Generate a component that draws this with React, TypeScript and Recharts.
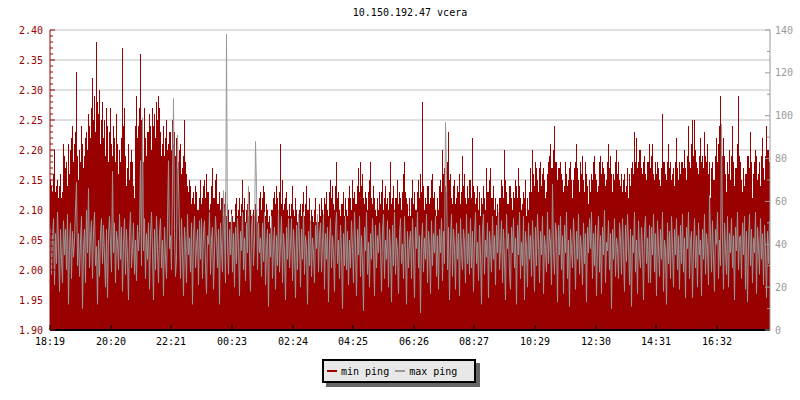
import React from 'react';
import { ComposedChart, Bar, Line, XAxis, YAxis, CartesianGrid, Legend } from 'recharts';

// min ping (left axis), one value per 2 minutes, 18:19 -> 18:19 next day (30 values per hour per line)
const MIN_PING: number[] = [
  2.15,2.14,2.13,2.16,2.20,2.13,2.14,2.15,2.12,2.14,2.16,2.12,2.13,2.21,2.19,2.17,2.18,2.14,2.21,2.16,2.20,2.22,2.24,2.18,2.21,2.23,2.33,2.19,2.15,2.20,
  2.18,2.24,2.21,2.17,2.19,2.22,2.23,2.20,2.26,2.24,2.22,2.27,2.32,2.25,2.29,2.23,2.38,2.28,2.26,2.30,2.21,2.25,2.28,2.22,2.25,2.19,2.27,2.24,2.18,2.23,
  2.27,2.21,2.19,2.24,2.22,2.18,2.26,2.21,2.16,2.20,2.18,2.22,2.37,2.24,2.27,2.19,2.14,2.17,2.21,2.15,2.18,2.20,2.18,2.14,2.12,2.24,2.29,2.22,2.24,2.27,
  2.36,2.25,2.21,2.18,2.27,2.22,2.19,2.23,2.23,2.26,2.24,2.20,2.27,2.24,2.26,2.22,2.28,2.25,2.29,2.27,2.23,2.19,2.21,2.24,2.19,2.22,2.25,2.20,2.21,2.23,
  2.23,2.20,2.25,2.21,2.23,2.19,2.22,2.17,2.18,2.20,2.21,2.16,2.17,2.19,2.25,2.18,2.16,2.14,2.13,2.15,2.14,2.11,2.12,2.13,2.11,2.14,2.13,2.10,2.10,2.12,
  2.15,2.11,2.12,2.14,2.15,2.12,2.16,2.13,2.13,2.10,2.11,2.14,2.17,2.12,2.12,2.15,2.16,2.11,2.11,2.13,2.10,2.12,2.12,2.09,2.11,2.13,2.09,2.11,2.10,2.08,
  2.08,2.10,2.09,2.08,2.08,2.11,2.12,2.09,2.10,2.12,2.09,2.11,2.15,2.10,2.12,2.08,2.10,2.11,2.09,2.13,2.10,2.09,2.08,2.10,2.09,2.11,2.10,2.08,2.09,2.12,
  2.13,2.10,2.12,2.14,2.13,2.09,2.11,2.10,2.08,2.09,2.07,2.10,2.10,2.12,2.13,2.11,2.14,2.12,2.10,2.13,2.21,2.11,2.15,2.10,2.11,2.12,2.13,2.10,2.09,2.11,
  2.09,2.11,2.14,2.10,2.09,2.12,2.10,2.08,2.08,2.10,2.11,2.09,2.11,2.13,2.09,2.11,2.14,2.10,2.10,2.12,2.08,2.10,2.09,2.08,2.10,2.12,2.08,2.09,2.08,2.11,
  2.09,2.12,2.10,2.09,2.12,2.11,2.13,2.10,2.09,2.13,2.15,2.12,2.14,2.11,2.10,2.14,2.18,2.12,2.13,2.10,2.09,2.11,2.11,2.13,2.09,2.12,2.10,2.09,2.12,2.14,
  2.12,2.10,2.15,2.12,2.13,2.11,2.11,2.14,2.17,2.13,2.18,2.14,2.16,2.12,2.11,2.13,2.12,2.10,2.13,2.15,2.18,2.12,2.11,2.14,2.12,2.10,2.09,2.12,2.10,2.13,
  2.11,2.13,2.15,2.10,2.12,2.14,2.11,2.12,2.10,2.13,2.18,2.11,2.12,2.14,2.10,2.12,2.12,2.15,2.11,2.13,2.12,2.10,2.13,2.16,2.18,2.13,2.12,2.11,2.09,2.12,
  2.09,2.12,2.15,2.11,2.13,2.10,2.10,2.13,2.15,2.12,2.16,2.13,2.28,2.14,2.10,2.12,2.11,2.14,2.14,2.11,2.12,2.15,2.16,2.12,2.13,2.10,2.09,2.12,2.10,2.14,
  2.15,2.13,2.20,2.16,2.17,2.14,2.13,2.18,2.23,2.15,2.16,2.12,2.11,2.14,2.15,2.11,2.12,2.14,2.13,2.16,2.11,2.13,2.19,2.14,2.16,2.12,2.11,2.14,2.12,2.15,
  2.15,2.12,2.22,2.14,2.13,2.11,2.12,2.14,2.10,2.13,2.09,2.12,2.11,2.14,2.12,2.10,2.17,2.13,2.13,2.15,2.17,2.12,2.12,2.14,2.10,2.12,2.09,2.11,2.08,2.12,
  2.12,2.15,2.14,2.12,2.20,2.15,2.13,2.11,2.11,2.14,2.14,2.12,2.10,2.13,2.12,2.15,2.14,2.12,2.17,2.14,2.12,2.10,2.11,2.13,2.12,2.15,2.09,2.12,2.10,2.13,
  2.17,2.13,2.20,2.16,2.14,2.18,2.17,2.15,2.13,2.17,2.18,2.14,2.16,2.17,2.15,2.12,2.13,2.16,2.18,2.19,2.21,2.17,2.17,2.20,2.24,2.18,2.18,2.15,2.17,2.17,
  2.18,2.16,2.15,2.13,2.14,2.18,2.16,2.14,2.15,2.17,2.18,2.15,2.12,2.15,2.17,2.18,2.21,2.17,2.15,2.13,2.18,2.16,2.19,2.15,2.13,2.18,2.16,2.14,2.11,2.15,
  2.13,2.16,2.15,2.18,2.19,2.16,2.15,2.13,2.14,2.18,2.19,2.16,2.18,2.17,2.16,2.14,2.15,2.18,2.21,2.17,2.19,2.16,2.13,2.16,2.15,2.18,2.20,2.16,2.18,2.15,
  2.14,2.16,2.13,2.15,2.16,2.13,2.14,2.17,2.12,2.16,2.14,2.17,2.18,2.16,2.23,2.18,2.22,2.17,2.18,2.20,2.20,2.17,2.16,2.18,2.19,2.16,2.15,2.18,2.18,2.21,
  2.17,2.19,2.21,2.16,2.15,2.18,2.16,2.18,2.17,2.15,2.14,2.17,2.26,2.18,2.18,2.16,2.15,2.18,2.21,2.17,2.18,2.15,2.16,2.17,2.14,2.18,2.22,2.17,2.15,2.18,
  2.16,2.18,2.18,2.17,2.20,2.17,2.15,2.19,2.24,2.18,2.17,2.21,2.25,2.19,2.25,2.20,2.18,2.17,2.16,2.19,2.22,2.18,2.19,2.17,2.23,2.19,2.18,2.21,2.16,2.18,
  2.12,2.17,2.18,2.15,2.15,2.19,2.22,2.18,2.21,2.24,2.29,2.20,2.19,2.22,2.19,2.16,2.13,2.18,2.16,2.20,2.15,2.19,2.24,2.18,2.14,2.17,2.17,2.21,2.29,2.19,
  2.18,2.15,2.13,2.17,2.14,2.16,2.16,2.19,2.19,2.17,2.23,2.18,2.12,2.16,2.18,2.20,2.19,2.15,2.16,2.18,2.14,2.19,2.22,2.17,2.15,2.19,2.24,2.20,2.20,2.18,
];

// max ping (right axis)
const MAX_PING: number[] = [
  48,26,44,52,21,45,31,55,40,18,47,33,22,51,35,47,28,54,12,39,50,24,46,34,42,57,69,30,45,25,
  41,53,10,38,47,22,56,36,66,29,43,51,24,46,55,30,39,12,42,25,45,52,31,49,34,20,47,15,44,53,
  40,27,74,36,50,22,46,41,28,54,33,48,18,40,52,26,47,34,14,45,55,29,38,50,26,42,23,49,37,46,
  79,30,99,37,52,24,45,33,50,19,44,55,36,14,47,28,53,38,22,45,52,29,42,16,48,34,24,51,79,38,
  44,28,71,108,46,25,33,91,69,45,24,52,37,16,48,39,22,54,35,43,27,50,12,44,53,29,39,47,21,51,
  33,52,24,46,51,30,17,44,40,55,26,42,48,19,36,53,43,29,47,12,50,38,27,65,45,22,138,41,26,47,
  35,54,27,45,20,48,31,52,39,16,46,37,55,28,43,23,50,36,67,34,18,47,54,30,42,88,67,28,50,36,
  43,25,50,32,55,21,38,47,11,45,34,53,24,40,48,19,44,30,56,27,41,53,22,45,37,14,48,33,52,29,
  40,52,23,47,36,15,49,28,54,41,20,47,33,55,26,44,38,12,46,30,51,25,43,36,22,49,38,54,27,44,
  50,27,41,54,19,45,33,48,13,40,52,29,44,36,18,47,55,31,42,24,49,37,10,45,30,53,28,46,21,42,
  29,51,38,22,55,40,16,47,35,53,25,44,31,9,48,37,55,26,41,20,45,33,52,38,16,49,29,44,36,50,
  39,18,46,54,24,42,33,51,20,47,38,13,49,30,55,26,43,37,17,45,52,31,40,24,53,36,12,46,29,41,
  46,24,52,35,15,48,38,55,29,44,8,41,50,27,43,33,54,22,46,38,17,51,30,45,36,53,25,44,19,47,
  36,52,23,46,31,97,72,28,48,14,41,54,25,47,38,19,50,33,45,16,52,36,28,47,40,22,54,31,45,26,
  52,29,46,18,43,55,31,41,23,49,36,12,47,54,26,42,34,50,15,46,38,27,53,33,44,21,49,36,55,28,
  39,51,22,47,33,14,54,38,45,27,19,48,36,52,29,43,12,49,35,55,24,41,30,53,14,46,38,20,50,33,
  44,25,51,37,18,48,30,54,41,22,46,35,53,17,44,38,27,55,31,47,40,21,68,37,26,50,45,13,49,35,
  53,28,44,17,49,36,55,24,42,11,47,38,29,52,40,19,46,33,54,26,44,37,21,50,31,45,13,48,36,52,
  38,55,24,45,30,49,16,42,53,27,44,17,48,35,56,22,41,37,51,28,45,10,47,33,52,25,43,38,24,50,
  43,26,52,37,18,49,32,54,40,21,47,11,44,36,55,27,42,17,51,35,29,48,38,14,46,53,31,43,22,49,
  22,48,35,54,27,45,16,51,39,25,47,33,55,18,42,37,12,50,31,46,24,53,38,20,47,35,52,28,44,19,
  49,31,54,27,43,15,48,38,55,24,41,46,15,37,52,29,44,20,50,35,42,16,47,33,54,26,45,38,21,63,
  45,27,51,33,18,47,40,55,24,42,30,96,43,19,50,38,26,53,20,45,36,52,29,44,14,48,37,55,28,43,
  44,24,50,35,53,19,46,13,41,54,30,47,22,43,36,55,17,48,39,26,52,33,45,21,49,37,15,46,31,51,
];

const SERIES_NAMES = ['min ping', 'max ping'];
const TICK_LABELS = ['18:19', '20:20', '22:21', '00:23', '02:24', '04:25', '06:26', '08:27', '10:29', '12:30', '14:31', '16:32'];
const TICK_INDEX = [0, 61, 121, 182, 243, 303, 364, 424, 485, 546, 606, 667];
const LEFT_DOMAIN = [1.9, 2.4];
const LEFT_TICKS = Array.from({ length: 51 }, (_, k) => (190 + k) / 100);
const LEFT_GRID = [1.95, 2.0, 2.05, 2.1, 2.15, 2.2, 2.25, 2.3, 2.35, 2.4];
const RIGHT_TICKS = [0, 10, 20, 30, 40, 50, 60, 70, 80, 90, 100, 110, 120, 130, 140];

const data = MIN_PING.map((v, i) => ({ i, min: v, max: MAX_PING[i] }));

const FONT = '"DejaVu Sans Mono", monospace';
const RED = '#990000';
const GRAY = '#999999';

const LeftTick = (p: any) => {
  const v: number = p.payload.value;
  const major = Math.round(v * 100) % 5 === 0;
  const ax = p.x + 7;
  return (
    <g>
      <line x1={ax} x2={ax + (major ? 5 : 3)} y1={p.y} y2={p.y} stroke={RED} strokeWidth={1} />
      {major && (
        <text x={p.x} y={p.y} dy="0.35em" textAnchor="end" fill={RED} fontFamily={FONT} fontSize={10}>
          {v.toFixed(2)}
        </text>
      )}
    </g>
  );
};

const RightTick = (p: any) => {
  const v: number = p.payload.value;
  const major = v % 20 === 0;
  const ax = p.x - 5;
  return (
    <g>
      <line x1={ax} x2={ax - (major ? 5 : 3)} y1={p.y} y2={p.y} stroke={GRAY} strokeWidth={1} />
      {major && (
        <text x={p.x} y={p.y} dy="0.35em" textAnchor="start" fill={GRAY} fontFamily={FONT} fontSize={10}>
          {String(v)}
        </text>
      )}
    </g>
  );
};

const XTick = (p: any) => {
  const idx = TICK_INDEX.indexOf(p.payload.value);
  const x = p.x - 0.5;
  const ay = p.y - 15;
  return (
    <g>
      <line x1={x} x2={x} y1={ay} y2={ay - 5} stroke="#000" strokeWidth={1} />
      <text x={x} y={p.y} textAnchor="middle" fill="#000" fontFamily={FONT} fontSize={10}>
        {idx >= 0 ? TICK_LABELS[idx] : ''}
      </text>
    </g>
  );
};

const LegendBox = (props: any) => {
  const items = [...(props.payload || [])].sort(
    (a: any, b: any) => SERIES_NAMES.indexOf(a.value) - SERIES_NAMES.indexOf(b.value)
  );
  return (
    <div
      style={{
        boxSizing: 'border-box',
        width: 154,
        height: 24,
        border: '2px solid #000',
        background: '#e8e8e8',
        boxShadow: '4px 4px 0 #666',
        display: 'flex',
        alignItems: 'center',
        paddingLeft: 3,
        fontFamily: FONT,
        fontSize: 10,
        color: '#000',
        whiteSpace: 'nowrap',
      }}
    >
      {items.map((it: any, k: number) => (
        <span key={k} style={{ display: 'flex', alignItems: 'center', marginRight: 6 }}>
          <span style={{ display: 'inline-block', width: 10, height: 2, background: it.color, marginRight: 4 }} />
          <span>{it.value}</span>
        </span>
      ))}
    </div>
  );
};

// horizontal grid lines at the major left-axis values
const gridGen = (props: any) => {
  const ya = props && props.yAxis;
  if (ya && typeof ya.scale === 'function') return LEFT_GRID.map((v) => ya.scale(v));
  const off = props && props.offset;
  if (!off) return [];
  const [lo, hi] = LEFT_DOMAIN;
  return LEFT_GRID.map((v) => off.top + (off.height * (hi - v)) / (hi - lo));
};

export default function App() {
  return (
    <div style={{ position: 'absolute', left: 0, top: 0, width: 800, height: 400, background: '#fff' }}>
      <div
        style={{
          position: 'absolute',
          left: 50,
          top: 7,
          width: 720,
          textAlign: 'center',
          fontFamily: FONT,
          fontSize: 10,
          lineHeight: '12px',
          color: '#000',
        }}
      >
        10.150.192.47 vcera
      </div>
      <ComposedChart
        width={800}
        height={400}
        data={data}
        margin={{ top: 30, right: 0, bottom: 0, left: 0 }}
        barCategoryGap={0}
        barGap={0}
      >
        <CartesianGrid
          xAxisId={0}
          yAxisId="l"
          vertical={false}
          stroke="#c0c0c0"
          horizontalCoordinatesGenerator={gridGen}
        />
        <XAxis
          dataKey="i"
          type="category"
          ticks={TICK_INDEX}
          interval={0}
          height={70}
          tickSize={0}
          tickMargin={15}
          tickLine={false}
          axisLine={{ stroke: '#000', strokeWidth: 2 }}
          tick={<XTick />}
        />
        <YAxis
          yAxisId="l"
          type="number"
          domain={LEFT_DOMAIN}
          ticks={LEFT_TICKS}
          interval={0}
          width={50}
          tickSize={0}
          tickMargin={7}
          tickLine={false}
          allowDataOverflow
          axisLine={{ stroke: RED }}
          tick={<LeftTick />}
        />
        <YAxis
          yAxisId="r"
          orientation="right"
          type="number"
          domain={[0, 140]}
          ticks={RIGHT_TICKS}
          interval={0}
          width={30}
          tickSize={0}
          tickMargin={5}
          tickLine={false}
          allowDataOverflow
          axisLine={{ stroke: GRAY }}
          tick={<RightTick />}
        />
        <Bar yAxisId="l" dataKey="min" name={SERIES_NAMES[0]} fill={RED} isAnimationActive={false} />
        <Line
          yAxisId="r"
          dataKey="max"
          name={SERIES_NAMES[1]}
          type="linear"
          stroke={GRAY}
          strokeWidth={1}
          dot={false}
          activeDot={false}
          isAnimationActive={false}
        />
        <Legend
          layout="horizontal"
          verticalAlign="middle"
          align="center"
          content={<LegendBox />}
          wrapperStyle={{ left: 322, top: 359, width: 154, height: 24 }}
        />
      </ComposedChart>
    </div>
  );
}
